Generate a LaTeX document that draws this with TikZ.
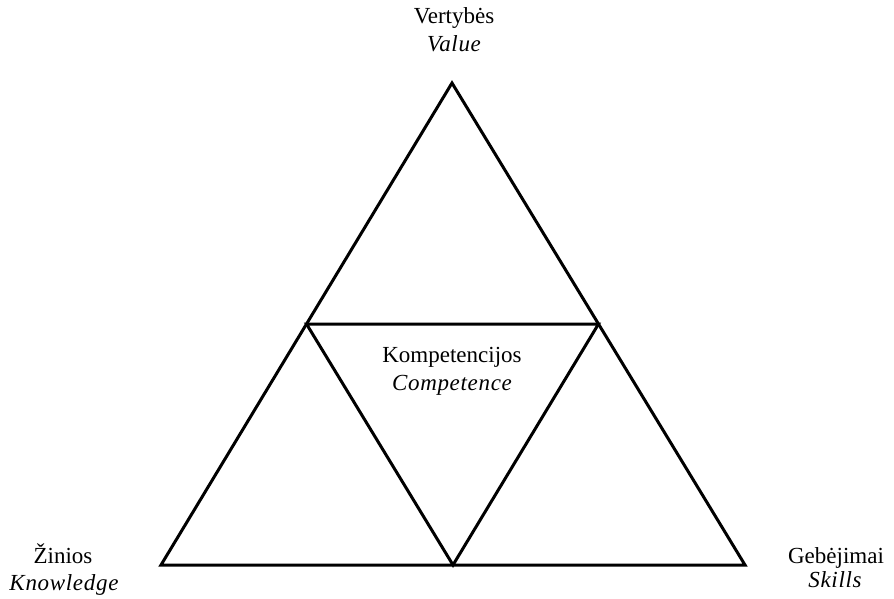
\documentclass[tikz,border=0pt]{standalone}
\usepackage{fontspec}
\setmainfont{Liberation Serif}
\newfontfamily\itspfam[LetterSpace=3]{Liberation Serif}
\newcommand\itsp{\itspfam\itshape}
\usetikzlibrary{calc}
\begin{document}
\begin{tikzpicture}[x=1pt,y=-1pt,
  lbl/.style={anchor=base,inner sep=0pt,font=\fontsize{23}{27}\selectfont},
  edge/.style={line width=3pt,line join=miter}]
\useasboundingbox (0,0) rectangle (894,599);
\coordinate (A) at (452,83);
\coordinate (L) at (161,565);
\coordinate (R) at (745,565);
\coordinate (ML) at ($(A)!0.5!(L)$);
\coordinate (MR) at ($(A)!0.5!(R)$);
\coordinate (MB) at ($(L)!0.5!(R)$);
\draw[edge] (A) -- (L) -- (R) -- cycle;
\draw[edge] (ML) -- (MR) -- (MB) -- cycle;
\node[lbl] (v1) at (454,24) {Vertybės};
\node[lbl] (v2) at (454,52) {\itsp Value};
\node[lbl] (k1) at (452,362) {Kompetencijos};
\node[lbl] (k2) at (452,390) {\itsp Competence};
\node[lbl] (z1) at (63,563) {Žinios};
\node[lbl] (z2) at (64,590) {\itsp Knowledge};
\node[lbl] (g1) at (836,563) {Gebėjimai};
\node[lbl] (g2) at (835,587) {\itsp Skills};
\end{tikzpicture}
\end{document}
